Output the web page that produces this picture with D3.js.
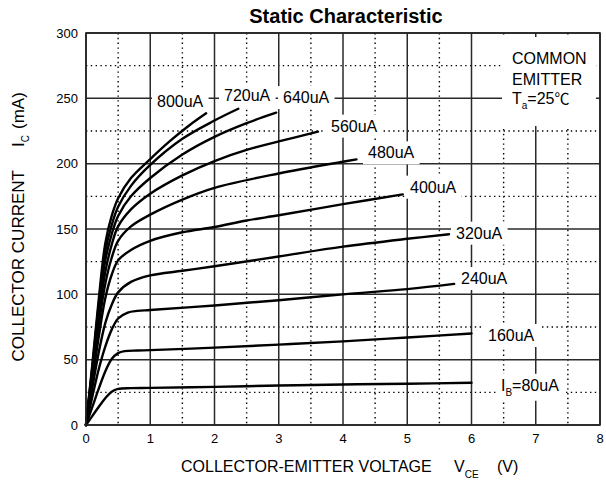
<!DOCTYPE html>
<html><head><meta charset="utf-8">
<script src="https://cdn.jsdelivr.net/npm/d3@7"></script>
<style>
html,body{margin:0;padding:0;background:#fff;}
svg{display:block;font-family:"Liberation Sans",Arial,Helvetica,sans-serif;}
</style></head>
<body>
<svg id="chart" width="606" height="482"></svg>
<script>
// ---- data (V_CE in volts, I_C in mA) ----
const baseCurrents = ["800uA","720uA","640uA","560uA","480uA","400uA","320uA","240uA","160uA","80uA"];
const ib800 = [[0,0],[0.1,47],[0.2,97],[0.3,139],[0.4,160],[0.5,173.5],[0.7,189],[1,203.5],[1.3,217],[1.6,229],[1.87,238.5]];
const ib720 = [[0,0],[0.1,45],[0.2,93],[0.3,133],[0.4,153],[0.5,167],[0.7,183],[1,199],[1.5,219],[2,233],[2.37,242]];
const ib640 = [[0,0],[0.1,43],[0.2,88],[0.3,126],[0.4,146],[0.5,160],[0.7,175],[1,189],[1.5,207],[2,220.5],[2.5,231],[2.96,239]];
const ib560 = [[0,0],[0.1,41],[0.2,83],[0.3,117],[0.4,138],[0.5,152],[0.7,165],[1,177],[1.5,191],[2,202],[2.5,210.5],[3,217],[3.61,224.5]];
const ib480 = [[0,0],[0.1,39],[0.2,77],[0.3,108],[0.4,128],[0.5,141],[0.7,152],[1,161],[1.5,172.5],[2,181.5],[3,192.5],[4,201.5],[4.21,203.3]];
const ib400 = [[0,0],[0.1,34],[0.2,68],[0.3,97],[0.4,115],[0.5,126],[0.7,134],[1,141],[1.5,147.5],[2,151.5],[2.5,156.5],[3,160.5],[4,169],[4.93,176.5]];
const ib320 = [[0,0],[0.1,29],[0.2,56],[0.3,78],[0.4,92],[0.5,101.5],[0.7,109.5],[1,114.5],[1.5,118],[2,121.5],[3,129],[4,136.5],[5,142.5],[5.65,146]];
const ib240 = [[0,0],[0.1,22],[0.2,43],[0.3,60],[0.4,73],[0.5,81.5],[0.65,86],[0.8,87.3],[1,88],[2,91.5],[3,95.5],[4,100],[5,104],[5.73,108]];
const ib160 = [[0,0],[0.1,14],[0.2,28],[0.3,41],[0.4,50.5],[0.5,55],[0.6,56.5],[0.8,57],[1,57.3],[2,59.2],[3,61.5],[4,64],[5,67],[6,70]];
const ib80  = [[0,0],[0.1,7],[0.2,14],[0.3,20.5],[0.4,25.5],[0.5,27.6],[0.7,28.2],[1,28.4],[2,29.2],[3,30.2],[4,31],[5,31.6],[6,32.3]];
const curves = [ib800, ib720, ib640, ib560, ib480, ib400, ib320, ib240, ib160, ib80];
// label anchors (text start, baseline) in data units
const labelV = [1.105, 2.148, 3.066, 3.813, 4.389, 5.043, 5.759, 5.837, 6.257, 6.459];
const labelI = [243.4, 248.0, 246.4, 224.5, 204.1, 177.8, 142.6, 107.9, 64.3, 26.2];
const xTicks = [0,1,2,3,4,5,6,7,8];
const yTicks = [0,50,100,150,200,250,300];
const xMinor = [0.5,1.5,2.5,3.5,4.5,5.5,6.5,7.5];
const yMinor = [25,75,125,175,225,275];
const noteLines = ["COMMON","EMITTER"];
const noteV = 6.63, noteI = [276, 260, 246];

// ---- layout ----
const svg = d3.select("#chart");
const L = 86, R = 600, T = 33, B = 425;
const x = d3.scaleLinear().domain([0,8]).range([L,R]);
const y = d3.scaleLinear().domain([0,300]).range([B,T]);

// grid
const g = svg.append("g");
g.selectAll(".xm").data(xMinor).join("line")
  .attr("x1",d=>x(d)).attr("x2",d=>x(d)).attr("y1",T).attr("y2",B)
  .attr("stroke","#000").attr("stroke-width",1.4).attr("stroke-dasharray","1.4 3.4");
g.selectAll(".ym").data(yMinor).join("line")
  .attr("x1",L).attr("x2",R).attr("y1",d=>y(d)).attr("y2",d=>y(d))
  .attr("stroke","#000").attr("stroke-width",1.4).attr("stroke-dasharray","1.4 3.4");
g.selectAll(".xM").data(xTicks).join("line")
  .attr("x1",d=>x(d)).attr("x2",d=>x(d)).attr("y1",T).attr("y2",B)
  .attr("stroke","#2a2a2a").attr("stroke-width",1.5);
g.selectAll(".yM").data(yTicks).join("line")
  .attr("x1",L).attr("x2",R).attr("y1",d=>y(d)).attr("y2",d=>y(d))
  .attr("stroke","#2a2a2a").attr("stroke-width",1.5);

// white boxes for labels
const boxes = svg.append("g");
const labels = svg.append("g").attr("font-size","16px").attr("fill","#000");

// curves
const line = d3.line().x(d=>x(d[0])).y(d=>y(d[1])).curve(d3.curveCatmullRom.alpha(0.5));
svg.append("g").selectAll("path").data(curves).join("path")
  .attr("d",line).attr("fill","none").attr("stroke","#000").attr("stroke-width",2.4)
  .attr("stroke-linecap","round").attr("stroke-linejoin","round");

// curve labels
baseCurrents.forEach((lab,i)=>{
  const t = labels.append("text").attr("x",x(labelV[i])).attr("y",y(labelI[i]));
  if(lab==="80uA"){
    t.append("tspan").text("I");
    t.append("tspan").text("B").attr("font-size","10px").attr("dy",5);
    t.append("tspan").text("=80uA").attr("dy",-5);
  } else t.text(lab);
  const bb = t.node().getBBox();
  boxes.append("rect").attr("x",bb.x-5).attr("y",bb.y-3).attr("width",bb.width+10).attr("height",bb.height+6).attr("fill","#fff");
});

// note box
boxes.append("rect").attr("x",502).attr("y",37).attr("width",94).attr("height",89).attr("fill","#fff");
noteLines.forEach((s,i)=>{
  labels.append("text").attr("x",x(noteV)).attr("y",y(noteI[i])).text(s);
});
const ta = labels.append("text").attr("x",x(noteV)).attr("y",y(noteI[2]));
ta.append("tspan").text("T");
ta.append("tspan").text("a").attr("font-size","10px").attr("dy",5);
ta.append("tspan").text("=25").attr("dy",-5);
ta.append("tspan").text("℃").attr("font-family","'Noto Sans CJK SC'").attr("font-size","15px");

// frame
svg.append("rect").attr("x",L).attr("y",T).attr("width",R-L).attr("height",B-T)
  .attr("fill","none").attr("stroke","#222").attr("stroke-width",1.6);

// tick labels
svg.append("g").selectAll("text").data(xTicks).join("text")
  .attr("x",d=>x(d)).attr("y",B+18).attr("text-anchor","middle").attr("font-size","13px").text(d=>d);
svg.append("g").selectAll("text").data(yTicks).join("text")
  .attr("x",L-8).attr("y",d=>y(d)+4.5).attr("text-anchor","end").attr("font-size","13px").text(d=>d);

// title
svg.append("text").attr("x",346).attr("y",22.5).attr("text-anchor","middle")
  .attr("font-size","20px").attr("font-weight","bold").text("Static Characteristic");

// x axis title
const xt = svg.append("g").attr("font-size","16px");
xt.append("text").attr("x",181).attr("y",471.5).text("COLLECTOR-EMITTER VOLTAGE");
const vce = xt.append("text").attr("x",454).attr("y",471.5);
vce.append("tspan").text("V");
vce.append("tspan").text("CE").attr("font-size","10px").attr("dy",6);
xt.append("text").attr("x",497).attr("y",471.5).text("(V)");

// y axis title
const yt = svg.append("g").attr("transform","translate(24,0) rotate(-90)").attr("font-size","17px");
yt.append("text").attr("x",-361.5).attr("y",0).text("COLLECTOR CURRENT");
const ic = yt.append("text").attr("x",-147).attr("y",0);
ic.append("tspan").text("I");
ic.append("tspan").text("C").attr("font-size","10px").attr("dy",5);
yt.append("text").attr("x",-129).attr("y",0).text("(mA)");
</script>
</body></html>
